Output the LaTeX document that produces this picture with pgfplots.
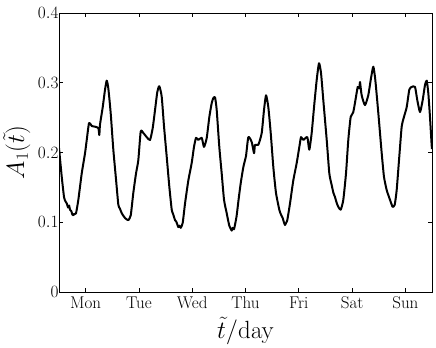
\documentclass[border=0pt]{standalone}
\usepackage{pgfplots}
\pgfplotsset{compat=1.18}

\begin{document}
\begin{tikzpicture}
\begin{axis}[
    scale only axis,
    width=373pt, height=279pt,
    xmin=0, xmax=7,
    ymin=0, ymax=0.4,
    xtick={0.5,1.5,2.5,3.5,4.5,5.5,6.5},
    xticklabels={Mon,Tue,Wed,Thu,Fri,Sat,Sun},
    ytick={0,0.1,0.2,0.3,0.4},
    tick align=inside,
    major tick length=4pt,
    tick style={black, line width=0.6pt},
    axis line style={line width=0.8pt},
    xticklabel style={font=\fontsize{17}{19}\selectfont, yshift=-1pt},
    yticklabel style={font=\fontsize{18}{20}\selectfont, xshift=3pt},
    xlabel={$\tilde{t}/\mathrm{day}$},
    ylabel={$A_1(\tilde{t})$},
    label style={font=\fontsize{24}{28}\selectfont},
    xlabel style={at={(axis description cs:0.5,-0.14)}, anchor=center},
    ylabel style={at={(axis description cs:-0.113,0.5)}, anchor=center},
    clip=true,
]
\addplot[black, line width=2pt, line join=round, smooth, tension=0.35] coordinates {
(0.000,0.206) (0.051,0.165) (0.094,0.136) (0.120,0.130) (0.145,0.127) (0.170,0.121)
(0.190,0.124) (0.206,0.118) (0.230,0.116) (0.250,0.111) (0.268,0.110) (0.290,0.112)
(0.319,0.113) (0.362,0.132) (0.426,0.170) (0.488,0.199) (0.520,0.218) (0.563,0.242)
(0.614,0.238) (0.676,0.237) (0.738,0.235) (0.756,0.225) (0.769,0.240) (0.820,0.265)
(0.863,0.290) (0.895,0.303) (0.925,0.292) (0.970,0.256) (1.019,0.204) (1.070,0.161)
(1.113,0.125) (1.140,0.120) (1.177,0.113) (1.210,0.109) (1.239,0.106) (1.270,0.104)
(1.301,0.103) (1.346,0.110) (1.394,0.142) (1.445,0.170) (1.488,0.189) (1.533,0.230)
(1.582,0.228) (1.646,0.222) (1.708,0.218) (1.758,0.235) (1.802,0.261) (1.845,0.287)
(1.882,0.295) (1.927,0.280) (1.971,0.237) (2.021,0.194) (2.070,0.151) (2.115,0.118)
(2.140,0.112) (2.177,0.103) (2.200,0.101) (2.239,0.093) (2.260,0.095) (2.284,0.092)
(2.321,0.099) (2.365,0.127) (2.427,0.160) (2.490,0.185) (2.533,0.208) (2.571,0.221)
(2.614,0.218) (2.678,0.221) (2.721,0.208) (2.772,0.221) (2.821,0.251) (2.866,0.271)
(2.896,0.278) (2.928,0.279) (2.959,0.261) (3.008,0.208) (3.053,0.170) (3.097,0.132)
(3.147,0.113) (3.170,0.104) (3.196,0.095) (3.220,0.091) (3.241,0.088) (3.260,0.092)
(3.284,0.090) (3.331,0.108) (3.369,0.132) (3.410,0.156) (3.459,0.179) (3.509,0.195)
(3.553,0.222) (3.616,0.215) (3.660,0.199) (3.678,0.211) (3.740,0.211) (3.804,0.228)
(3.847,0.261) (3.885,0.282) (3.928,0.265) (3.973,0.228) (4.022,0.179) (4.072,0.142)
(4.134,0.118) (4.160,0.112) (4.198,0.106) (4.220,0.100) (4.241,0.096) (4.260,0.099)
(4.284,0.103) (4.335,0.127) (4.397,0.160) (4.461,0.185) (4.510,0.208) (4.542,0.222)
(4.585,0.218) (4.660,0.222) (4.697,0.204) (4.742,0.228) (4.786,0.265) (4.836,0.304)
(4.879,0.328) (4.917,0.314) (4.960,0.275) (5.024,0.218) (5.073,0.170) (5.118,0.153)
(5.150,0.142) (5.180,0.136) (5.210,0.128) (5.242,0.122) (5.287,0.118) (5.335,0.132)
(5.386,0.170) (5.429,0.218) (5.474,0.251) (5.523,0.258) (5.574,0.280) (5.606,0.294)
(5.636,0.292) (5.649,0.301) (5.680,0.282) (5.742,0.268) (5.804,0.282) (5.850,0.304)
(5.898,0.323) (5.936,0.304) (5.992,0.257) (6.056,0.199) (6.099,0.165) (6.150,0.146)
(6.180,0.139) (6.212,0.132) (6.240,0.126) (6.262,0.122) (6.300,0.125) (6.337,0.146)
(6.386,0.194) (6.431,0.237) (6.474,0.251) (6.525,0.265) (6.574,0.290) (6.619,0.294)
(6.681,0.294) (6.724,0.275) (6.775,0.258) (6.825,0.275) (6.869,0.297) (6.901,0.303)
(6.931,0.285) (6.962,0.251) (6.994,0.210) (7.000,0.205)
};
\end{axis}
\path ([xshift=-59pt,yshift=-53pt]current axis.south west) rectangle ([xshift=4pt,yshift=13pt]current axis.north east);
\end{tikzpicture}
\end{document}
